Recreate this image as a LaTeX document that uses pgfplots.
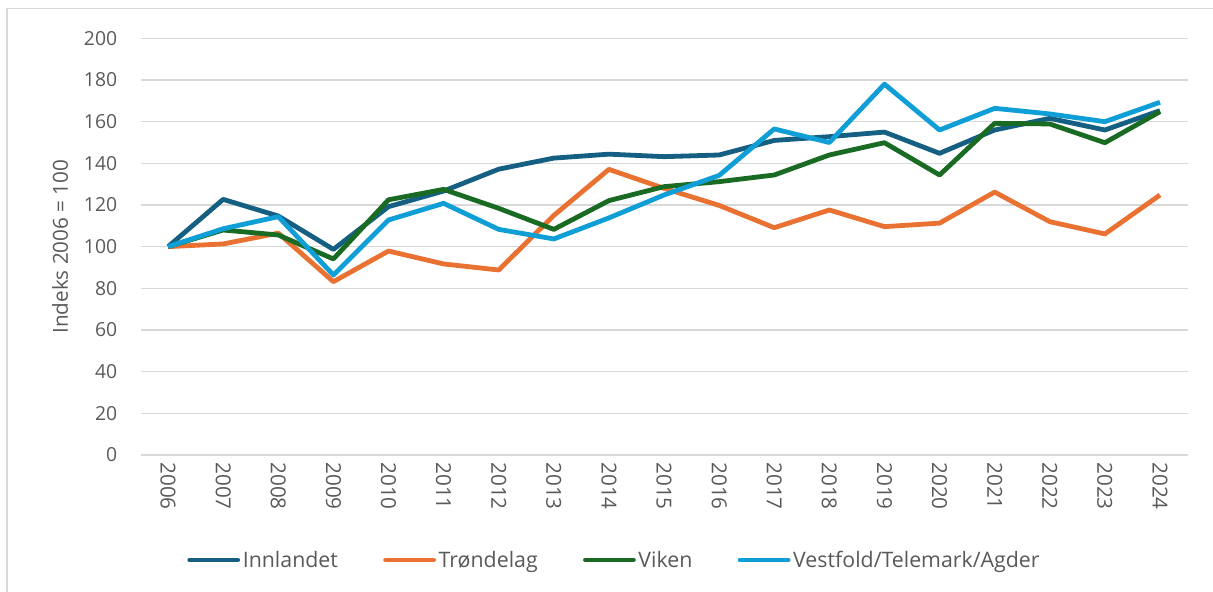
\documentclass[border=0pt]{standalone}
\usepackage{pgfplots}
\pgfplotsset{compat=1.18}
\usepackage{fontspec}
\setmainfont{Open Sans}
\definecolor{cInn}{HTML}{156082}
\definecolor{cTro}{HTML}{E97132}
\definecolor{cVik}{HTML}{196B24}
\definecolor{cVes}{HTML}{0F9ED5}
\definecolor{cGrid}{HTML}{D9D9D9}
\definecolor{cText}{HTML}{595959}
\begin{document}
\begin{tikzpicture}
\useasboundingbox (0,0) rectangle (909.75pt,444pt);
\draw[cGrid, line width=1.2pt] (5.25pt,0) -- (5.25pt,437.5pt) -- (909.75pt,437.5pt);
\begin{axis}[
  at={(105.4pt,102.75pt)}, anchor=south west,
  scale only axis, width=785.25pt, height=312.5pt,
  xmin=-0.5, xmax=18.5, ymin=0, ymax=200,
  xtick={0,...,18},
  xticklabels={2006,2007,2008,2009,2010,2011,2012,2013,2014,2015,2016,2017,2018,2019,2020,2021,2022,2023,2024},
  ytick={0,20,...,200},
  ymajorgrids, grid style={cGrid, line width=1pt},
  axis y line*=left, axis x line*=bottom,
  y axis line style={draw=none},
  x axis line style={cGrid, line width=1pt, -},
  major tick length=0pt,
  font=\fontsize{14.5}{17}\selectfont\color{cText},
  tick label style={font=\fontsize{14.5}{17}\selectfont\color{cText}},
  xticklabel style={font=\fontsize{15.5}{17}\selectfont\color{cText}, rotate=-90, anchor=west, xshift=2pt, yshift=0pt},
  yticklabel style={xshift=-14pt},
  /pgf/number format/assume math mode=true,
  ylabel={Indeks 2006 = 100},
  ylabel style={font=\fontsize{15.5}{17}\selectfont\color{cText}, yshift=5pt},
  legend columns=4,
  legend style={at={(0.453,-0.252)}, anchor=center, draw=none, fill=none,
    font=\fontsize{16}{18}\selectfont\color{cText},
    /tikz/every even column/.append style={column sep=32pt}},
  legend cell align=left,
  legend image code/.code={\draw[#1, line cap=round] (0pt,0pt) -- (36pt,0pt);},
  every axis plot/.append style={line width=3.6pt, line join=round, mark=none},
]
\addplot[cInn] coordinates {(0,100) (1,122.7) (2,114.7) (3,98.7) (4,119.2) (5,126.7) (6,137.2) (7,142.5) (8,144.4) (9,143.2) (10,144) (11,151) (12,152.8) (13,155) (14,144.8) (15,156) (16,161.6) (17,156) (18,165.3)};
\addlegendentry{Innlandet}
\addplot[cTro] coordinates {(0,100) (1,101.3) (2,106.5) (3,83.2) (4,97.9) (5,91.7) (6,88.8) (7,115) (8,137.1) (9,128) (10,119.8) (11,109.1) (12,117.6) (13,109.6) (14,111.3) (15,126.2) (16,112) (17,106.1) (18,124.8)};
\addlegendentry{Trøndelag}
\addplot[cVik] coordinates {(0,100) (1,108) (2,105.6) (3,94.1) (4,122.5) (5,127.5) (6,118.4) (7,108.3) (8,122.1) (9,128.8) (10,131.2) (11,134.4) (12,144) (13,149.9) (14,134.4) (15,159.2) (16,158.9) (17,149.9) (18,164.8)};
\addlegendentry{Viken}
\addplot[cVes] coordinates {(0,100) (1,108.6) (2,114.4) (3,86.4) (4,112.8) (5,120.8) (6,108.3) (7,103.7) (8,113.8) (9,124.8) (10,134.2) (11,156.5) (12,150) (13,178) (14,156) (15,166.4) (16,163.7) (17,160) (18,169.3)};
\addlegendentry{Vestfold/Telemark/Agder}
\end{axis}
\end{tikzpicture}
\end{document}
